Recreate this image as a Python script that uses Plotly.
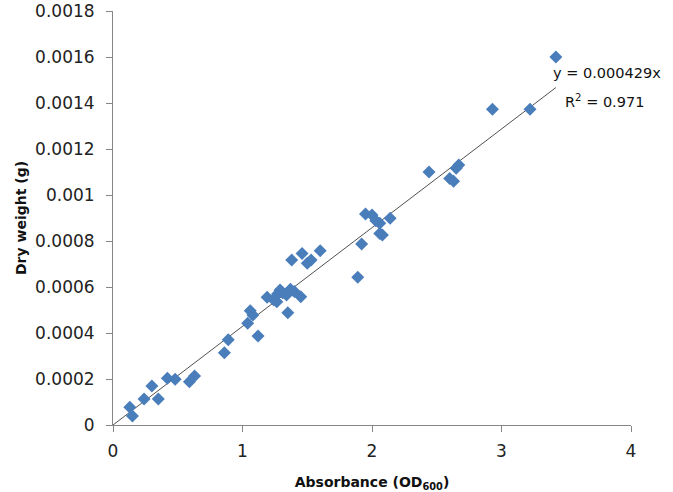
import numpy as np
import plotly.graph_objects as go

# Absorbance (OD600) values
absorbance = [0.13, 0.15, 0.24, 0.30, 0.35, 0.42, 0.48, 0.59, 0.63, 0.86, 0.89,
              1.04, 1.06, 1.08, 1.12,
              1.19, 1.24, 1.265, 1.27, 1.29, 1.31, 1.34, 1.37, 1.40, 1.45, 1.35,
              1.38, 1.46, 1.50, 1.53, 1.60,
              1.89, 1.92, 1.95, 2.00, 2.03, 2.06, 2.06, 2.08, 2.14,
              2.44, 2.60, 2.63, 2.65, 2.67, 2.93, 3.22, 3.42]
# Dry weight (g) values
dry_weight = [0.000077, 0.000039, 0.000113, 0.000170, 0.000113, 0.000203, 0.000199, 0.000188, 0.000213, 0.000314, 0.000371,
              0.000442, 0.000497, 0.000478, 0.000387,
              0.000555, 0.000545, 0.000536, 0.000570, 0.000587, 0.000575, 0.000565, 0.000590, 0.000580, 0.000558, 0.000488,
              0.000717, 0.000746, 0.000703, 0.000717, 0.000758,
              0.000642, 0.000787, 0.000917, 0.000913, 0.000888, 0.000877, 0.000833, 0.000826, 0.000899,
              0.001100, 0.001072, 0.001060, 0.001116, 0.001130, 0.001373, 0.001373, 0.001600]

slope = 0.000429
r_squared = 0.971

y_tick_vals = [0, 0.0002, 0.0004, 0.0006, 0.0008, 0.001, 0.0012, 0.0014, 0.0016, 0.0018]
y_tick_text = ["0", "0.0002", "0.0004", "0.0006", "0.0008", "0.001", "0.0012", "0.0014", "0.0016", "0.0018"]
x_tick_vals = [0, 1, 2, 3, 4]
x_tick_text = ["0", "1", "2", "3", "4"]

trend_x = np.array([0.0, max(absorbance)])
trend_y = slope * trend_x

fig = go.Figure()
fig.add_trace(go.Scatter(x=trend_x, y=trend_y, mode="lines",
                         line=dict(color="#505050", width=1), showlegend=False, hoverinfo="skip"))
fig.add_trace(go.Scatter(x=absorbance, y=dry_weight, mode="markers",
                         marker=dict(symbol="diamond", size=10, color="#4A7EBB",
                                     line=dict(width=0)),
                         showlegend=False))

tick_font = dict(family="DejaVu Sans", size=17, color="#222222")
axis_common = dict(showgrid=False, zeroline=False, showline=True, linecolor="#868686", linewidth=1,
                   ticks="outside", ticklen=6, tickcolor="#868686", tickfont=tick_font,
                   automargin=False, ticklabeloverflow="allow")

fig.update_xaxes(range=[0, 4], tickvals=x_tick_vals, ticktext=x_tick_text, ticklabelstandoff=5,
                 title=dict(text="<b>Absorbance (OD<sub>600</sub>)</b>",
                            font=dict(family="DejaVu Sans", size=14, color="#111111"), standoff=16),
                 **axis_common)
fig.update_yaxes(range=[0, 0.0018], tickvals=y_tick_vals, ticktext=y_tick_text, ticklabelstandoff=8,
                 title=dict(text="<b>Dry weight (g)</b>",
                            font=dict(family="DejaVu Sans", size=14, color="#111111"), standoff=5),
                 **axis_common)

ann_font = dict(family="DejaVu Sans", size=14.5, color="#111111")
fig.add_annotation(x=3.382, y=0.00153, xref="x", yref="y", text="y = 0.000429x",
                   showarrow=False, xanchor="left", yanchor="middle", font=ann_font)
fig.add_annotation(x=3.475, y=0.001409, xref="x", yref="y", text="R<sup>2</sup> = 0.971",
                   showarrow=False, xanchor="left", yanchor="middle", font=ann_font)

fig.update_layout(width=673, height=492, margin=dict(l=113, r=42, t=11, b=67, autoexpand=False),
                  plot_bgcolor="white", paper_bgcolor="white")

# remove the default page body margin so the figure fills the window exactly
fig.write_html("out.html", config={"displayModeBar": False},
               post_script="document.body.style.margin='0';")
